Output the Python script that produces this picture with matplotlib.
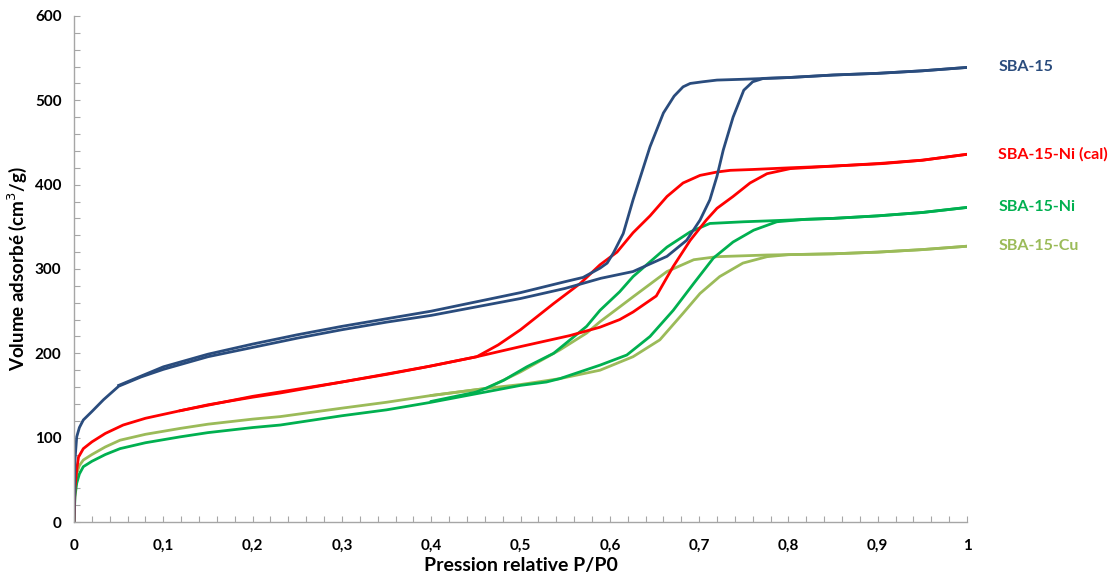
import matplotlib.pyplot as plt
from matplotlib.ticker import MultipleLocator, FuncFormatter

plt.rcParams['font.family'] = ['Lato', 'DejaVu Sans']

# SBA-15
sba_ads_x = [0, 0.001, 0.003, 0.006, 0.0104, 0.02, 0.033, 0.05, 0.075, 0.1, 0.15, 0.2, 0.25, 0.3, 0.35,
             0.4, 0.45, 0.5, 0.55, 0.59, 0.626, 0.664, 0.686, 0.701, 0.712, 0.72, 0.727, 0.738, 0.75,
             0.76, 0.772, 0.8, 0.85, 0.9, 0.95, 1.0]
sba_ads_y = [0, 73, 101, 112, 121, 131, 145, 161, 172, 181, 196, 207, 218, 228, 237,
             245, 255, 265, 277, 289, 297, 315, 334, 358, 382, 410, 441, 480, 512,
             522, 526, 527, 530, 532, 535, 539]
sba_des_x = [1.0, 0.95, 0.9, 0.85, 0.8, 0.775, 0.75, 0.72, 0.704, 0.69, 0.682, 0.672, 0.66, 0.645,
             0.626, 0.615, 0.604, 0.597, 0.589, 0.57, 0.55, 0.5, 0.45, 0.4, 0.35, 0.3, 0.25, 0.2,
             0.15, 0.1, 0.05]
sba_des_y = [539, 535, 532, 530, 527, 526, 525, 524, 522, 520, 516, 505, 485, 445,
             382, 342, 319, 307, 301, 290, 285, 272, 261, 250, 241, 232, 222, 211,
             199, 184, 162]

# SBA-15-Ni (cal)
nical_ads_x = [0, 0.001, 0.003, 0.005, 0.0104, 0.02, 0.035, 0.055, 0.08, 0.119, 0.15, 0.2, 0.231, 0.3,
               0.35, 0.39, 0.451, 0.5, 0.555, 0.589, 0.611, 0.626, 0.652, 0.671, 0.69, 0.708, 0.72,
               0.738, 0.757, 0.776, 0.802, 0.85, 0.906, 0.95, 1.0]
nical_ads_y = [0, 40, 62, 77, 87, 95, 105, 115, 123, 132, 139, 148, 153, 166,
               175, 183, 196, 208, 221, 231, 240, 249, 268, 303, 334, 358, 372,
               386, 402, 413, 419, 422, 425, 429, 436]
nical_des_x = [1.0, 0.95, 0.9, 0.85, 0.802, 0.76, 0.735, 0.72, 0.701, 0.682, 0.664, 0.645, 0.626,
               0.608, 0.589, 0.567, 0.537, 0.5, 0.475, 0.451, 0.4, 0.3, 0.2, 0.119]
nical_des_y = [436, 429, 425, 422, 420, 418, 417, 415, 411, 402, 386, 363, 343,
               320, 305, 283, 259, 228, 210, 196, 185, 166, 149, 132]

# SBA-15-Ni
ni_ads_x = [0, 0.001, 0.003, 0.006, 0.0104, 0.02, 0.035, 0.0515, 0.08, 0.119, 0.15, 0.2, 0.231, 0.3,
            0.35, 0.4, 0.45, 0.5, 0.529, 0.544, 0.589, 0.619, 0.645, 0.671, 0.694, 0.716, 0.738,
            0.761, 0.787, 0.82, 0.85, 0.9, 0.95, 1.0]
ni_ads_y = [0, 30, 46, 57, 65.6, 72, 80, 87, 94, 101, 106, 112, 115, 126,
            133, 142, 152, 162, 166, 170, 186, 198, 220, 251, 283, 313, 332,
            346, 356, 359, 360, 363, 367, 373]
ni_des_x = [1.0, 0.95, 0.9, 0.85, 0.8, 0.776, 0.75, 0.712, 0.69, 0.664, 0.626, 0.611, 0.589, 0.574,
            0.537, 0.507, 0.481, 0.462, 0.45, 0.4]
ni_des_y = [373, 367, 363, 360, 358, 357, 356, 354, 344, 326, 291, 273, 251, 232,
            200, 184, 168, 159, 154, 143]

# SBA-15-Cu
cu_ads_x = [0, 0.001, 0.003, 0.006, 0.0104, 0.02, 0.035, 0.0515, 0.08, 0.119, 0.15, 0.2, 0.231, 0.3,
            0.35, 0.4, 0.462, 0.5, 0.544, 0.589, 0.626, 0.656, 0.682, 0.701, 0.723, 0.749, 0.776,
            0.8, 0.85, 0.9, 0.95, 1.0]
cu_ads_y = [0, 35, 58, 67, 73.5, 80, 89, 97, 104, 111, 116, 122, 125, 135,
            142, 150, 158.5, 163, 170, 180, 196, 216, 247.5, 271, 291, 307, 314.6,
            317, 318, 320, 323, 327]
cu_des_x = [1.0, 0.95, 0.9, 0.85, 0.8, 0.776, 0.72, 0.694, 0.664, 0.626, 0.611, 0.589, 0.574, 0.544,
            0.5, 0.462, 0.4]
cu_des_y = [327, 323, 320, 318, 317, 316.6, 314.6, 311, 297, 267, 255, 237.5, 224, 204,
            178, 158.5, 150]

names = ['SBA-15', 'SBA-15-Ni (cal)', 'SBA-15-Ni', 'SBA-15-Cu']
colors = ['#2A4C7D', '#FF0000', '#00B050', '#9BBB59']
series = [(sba_ads_x, sba_ads_y, sba_des_x, sba_des_y),
          (nical_ads_x, nical_ads_y, nical_des_x, nical_des_y),
          (ni_ads_x, ni_ads_y, ni_des_x, ni_des_y),
          (cu_ads_x, cu_ads_y, cu_des_x, cu_des_y)]

fig = plt.figure(figsize=(11.15, 5.77), dpi=100)
ax = fig.add_axes([0.0664, 0.0953, 0.8009, 0.877])

# draw back to front so the navy line sits on top
for (ax_x, ax_y, dx, dy), c in reversed(list(zip(series, colors))):
    ax.plot(ax_x, ax_y, color=c, lw=2.0, solid_joinstyle='round')
    ax.plot(dx, dy, color=c, lw=2.0, solid_joinstyle='round')

for name, c, s in zip(names, colors, series):
    ax.text(1.035, s[1][-1], name, color=c, fontsize=11.5, fontweight='bold',
            va='center', ha='left', clip_on=False)

ax.set_xlim(0, 1)
ax.set_ylim(0, 600)
ax.xaxis.set_major_locator(MultipleLocator(0.1))
ax.xaxis.set_minor_locator(MultipleLocator(0.02))
ax.yaxis.set_major_locator(MultipleLocator(100))
ax.yaxis.set_minor_locator(MultipleLocator(20))
ax.xaxis.set_major_formatter(FuncFormatter(lambda v, p: ('%g' % round(v, 1)).replace('.', ',')))

for sp in ['top', 'right']:
    ax.spines[sp].set_visible(False)
for sp in ['left', 'bottom']:
    ax.spines[sp].set_color('#A6A6A6')
    ax.spines[sp].set_linewidth(1.0)

ax.tick_params(which='both', direction='in', color='#A6A6A6', length=4, width=0.8)
ax.tick_params(axis='x', which='major', labelsize=11, pad=12)
ax.tick_params(axis='y', which='major', labelsize=11, pad=9)
for lab in ax.get_xticklabels() + ax.get_yticklabels():
    lab.set_fontweight('bold')

ax.set_xlabel('Pression relative P/P0', fontsize=14, fontweight='bold', labelpad=3)
ax.set_ylabel('Volume adsorbé (cm$^3$/g)', fontsize=13.5, fontweight='bold', labelpad=4)

fig.savefig('out.png', dpi=100)
